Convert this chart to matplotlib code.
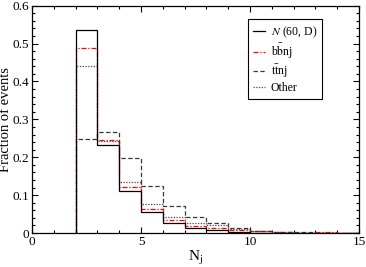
import matplotlib
matplotlib.use("Agg")
import matplotlib.pyplot as plt
from matplotlib.ticker import MultipleLocator
import numpy as np

plt.rcParams['font.family'] = ['Liberation Serif', 'DejaVu Serif']
plt.rcParams['mathtext.fontset'] = 'stix'

# bin edges for jet multiplicity
edges = np.arange(2, 16)

# fraction of events per bin
n60d = [0.537, 0.233, 0.112, 0.055, 0.0255, 0.014, 0.007, 0.0035, 0.0012, 0.0005, 0.0002, 0.0001, 0.00005]
bbnj = [0.487, 0.245, 0.122, 0.064, 0.0335, 0.019, 0.013, 0.008, 0.004, 0.002, 0.001, 0.0015, 0.0005]
ttnj = [0.249, 0.266, 0.198, 0.125, 0.072, 0.041, 0.0255, 0.012, 0.005, 0.003, 0.0015, 0.001, 0.0005]
other = [0.442, 0.242, 0.135, 0.0765, 0.042, 0.0255, 0.021, 0.010, 0.005, 0.002, 0.001, 0.0007, 0.0003]

labels = [r"$N$ (60, D)", r"b$\bar{\mathrm{b}}$nj", r"t$\bar{\mathrm{t}}$nj", "Other"]

fig = plt.figure(figsize=(3.66, 2.67), dpi=100)
ax = fig.add_axes([0.0874, 0.1273, 0.8936, 0.8514])

h0 = ax.stairs(n60d, edges, color='black', linewidth=0.9, linestyle='-', label=labels[0], zorder=5)
h1 = ax.stairs(bbnj, edges, color='#ff0000', linewidth=0.9, linestyle=(0, (4, 1.5, 1, 1.5)), label=labels[1], zorder=3)
h2 = ax.stairs(ttnj, edges, color='#383838', linewidth=0.9, linestyle=(0, (3.5, 2)), label=labels[2], zorder=4)
h3 = ax.stairs(other, edges, color='#484848', linewidth=0.9, linestyle=(0, (1, 1.2)), label=labels[3], zorder=2)

ax.set_xlim(0, 15)
ax.set_ylim(0, 0.6)
ax.xaxis.set_major_locator(MultipleLocator(5))
ax.xaxis.set_minor_locator(MultipleLocator(1))
ax.yaxis.set_major_locator(MultipleLocator(0.1))
ax.yaxis.set_minor_locator(MultipleLocator(0.02))
ax.set_yticks([0, 0.1, 0.2, 0.3, 0.4, 0.5, 0.6])
ax.set_yticklabels(["0", "0.1", "0.2", "0.3", "0.4", "0.5", "0.6"])
ax.tick_params(which='both', direction='in', top=True, right=True, labelsize=9.5, pad=2, width=0.8)
ax.tick_params(which='major', length=4)
ax.tick_params(which='minor', length=2)
for s in ax.spines.values():
    s.set_linewidth(0.9)

ax.set_xlabel(r"N$_{\mathrm{j}}$", fontsize=11, labelpad=1)
ax.set_ylabel("Fraction of events", fontsize=10.5, labelpad=0)

leg = ax.legend([h0, h1, h2, h3], labels, loc='upper left', bbox_to_anchor=(0.66, 0.94), borderaxespad=0,
                fontsize=8.5, handlelength=1.0, handletextpad=0.5, labelspacing=0.15,
                borderpad=0.45, fancybox=False, edgecolor='black', framealpha=1)
leg.get_frame().set_linewidth(0.8)

plt.savefig("out.png", dpi=100)
